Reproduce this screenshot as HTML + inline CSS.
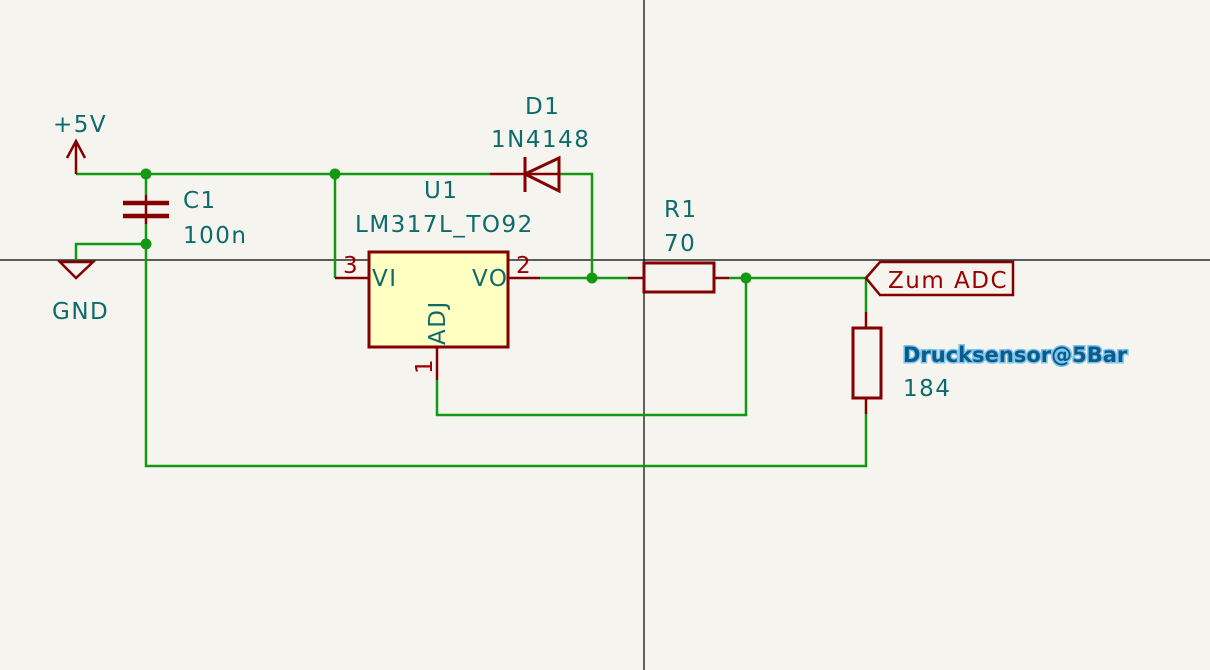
<!DOCTYPE html>
<html><head><meta charset="utf-8"><style>
html,body{margin:0;padding:0;background:#f5f4ef;}
svg{display:block}
text{font-family:"DejaVu Sans","Liberation Sans",sans-serif;font-size:23px;letter-spacing:1.5px;}
.t{fill:#0e6b6b}
.r{fill:#9a0000}
</style></head><body>
<svg width="1210" height="670" viewBox="0 0 1210 670" xmlns="http://www.w3.org/2000/svg">
<rect width="1210" height="670" fill="#f5f4ef"/>
<line x1="644" y1="0" x2="644" y2="670" stroke="#000" stroke-width="1.2"/>
<line x1="0" y1="260" x2="1210" y2="260" stroke="#000" stroke-width="1.2"/>

<g fill="none" stroke="#139813" stroke-width="2.5">
<polyline points="76,174 490,174"/>
<polyline points="146,174 146,195"/>
<polyline points="146,224 146,466 866,466 866,414"/>
<polyline points="146,244 76,244 76,260"/>
<polyline points="335,174 335,278"/>
<polyline points="559,174 592,174 592,278"/>
<polyline points="540,278 628,278"/>
<polyline points="729,278 866,278 866,312"/>
<polyline points="437,380 437,415 746,415 746,278"/>
</g>

<g fill="none" stroke="#840000" stroke-width="2.5">
<polyline points="76,174 76,141"/>
<polyline points="67,158 76,141 85,158"/>
<polygon points="60,262 93,262 76,278"/>
<line x1="490" y1="174" x2="559" y2="174"/>
<polygon points="559,158 559,191 525,174" stroke-width="3"/>
<line x1="525" y1="157" x2="525" y2="192" stroke-width="3"/>
<line x1="146" y1="195" x2="146" y2="224"/>
<line x1="335" y1="278" x2="369" y2="278"/>
<line x1="508" y1="278" x2="540" y2="278"/>
<line x1="437" y1="347" x2="437" y2="380"/>
<line x1="628" y1="278" x2="644" y2="278"/>
<line x1="714" y1="278" x2="729" y2="278"/>
<rect x="644" y="263" width="70" height="29" stroke-width="3"/>
<line x1="866" y1="312" x2="866" y2="328"/>
<line x1="866" y1="398" x2="866" y2="414"/>
<rect x="853" y="328" width="28" height="70" stroke-width="3"/>
<polygon points="866,278 880,262 1013,262 1013,295 880,295"/>
</g>
<line x1="123" y1="203" x2="169" y2="203" stroke="#840000" stroke-width="4.5"/>
<line x1="123" y1="216" x2="169" y2="216" stroke="#840000" stroke-width="4.5"/>
<rect x="369" y="252" width="139" height="95" fill="#ffffc2" stroke="#840000" stroke-width="3"/>

<g fill="#139813">
<circle cx="146" cy="174" r="5.5"/><circle cx="335" cy="174" r="5.5"/>
<circle cx="146" cy="244" r="5.5"/><circle cx="592" cy="278" r="5.5"/>
<circle cx="746" cy="278" r="5.5"/>
</g>

<text class="t" x="53" y="132">+5V</text>
<text class="t" x="52" y="319">GND</text>
<text class="t" x="183" y="208">C1</text>
<text class="t" x="183" y="243">100n</text>
<text class="t" x="424" y="198">U1</text>
<text class="t" x="355" y="232">LM317L_TO92</text>
<text class="t" x="525" y="114">D1</text>
<text class="t" x="491" y="147">1N4148</text>
<text class="t" x="664" y="217">R1</text>
<text class="t" x="664" y="251">70</text>
<text class="t" x="372" y="286">VI</text>
<text class="t" x="472" y="286">VO</text>
<text class="r" x="343" y="273">3</text>
<text class="r" x="516" y="273">2</text>
<text class="t" transform="translate(445,345) rotate(-90)">ADJ</text>
<text class="r" transform="translate(432,374) rotate(-90)">1</text>
<text class="r" x="888" y="288">Zum ADC</text>
<text x="903" y="362" fill="#0a5d8a" stroke="#7fc4ec" stroke-width="3" paint-order="stroke" font-weight="bold" style="font-size:21px;letter-spacing:0px">Drucksensor@5Bar</text>
<text class="t" x="903" y="396">184</text>
</svg>
</body></html>
